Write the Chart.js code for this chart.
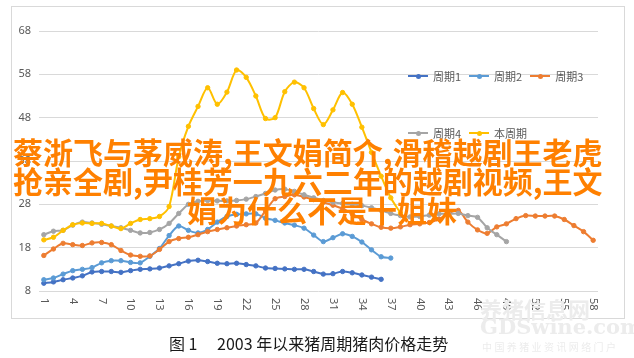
<!DOCTYPE html>
<html>
<head>
<meta charset="utf-8">
<script src="https://cdn.jsdelivr.net/npm/chart.js@4.4.1/dist/chart.umd.min.js"></script>
<style>
  html, body { margin: 0; padding: 0; background: #fff; }
  body { width: 634px; height: 358px; position: relative; overflow: hidden; font-family: "Noto Sans CJK SC", "Noto Sans", sans-serif; }
  #frame { position: absolute; left: 11px; top: 6px; width: 612px; height: 311px; border: 1px solid #d9d9d9; }
  #c { position: absolute; left: 0; top: 0; }
  .legend-row { position: absolute; display: flex; align-items: center; height: 14px; font-size: 11px; color: #595959; white-space: nowrap; }
  .legend-row .item { display: flex; align-items: center; margin-right: 8px; }
  .mk { position: relative; width: 20px; height: 2px; margin-right: 5px; background: var(--c); }
  .mk::after { content: ''; position: absolute; left: 7.5px; top: -1.5px; width: 5px; height: 5px; border-radius: 50%; background: var(--c); }
  .overlay { position: absolute; font-size: 30px; line-height: 30px; font-weight: 700; color: #ff8000; white-space: nowrap; }
  #caption { position: absolute; left: 169px; top: 332px; font-size: 16px; line-height: 22px; color: #1a1a1a; white-space: nowrap; }
  .wm { position: absolute; color: #ececec; white-space: nowrap; }
</style>
</head>
<body>
<div id="frame"></div>
<canvas id="c" width="634" height="358"></canvas>
<div class="legend-row" id="legend1" style="left:408px; top:69px;"></div>
<div class="legend-row" id="legend2" style="left:408px; top:126px;"></div>

<div class="wm" style="left:480px; top:292px; font-size:22px; font-weight:700;">养猪信息网</div>
<div class="wm" style="left:480px; top:314px; font-size:21px; font-family:'DejaVu Serif'; font-weight:700;">GDSwine.com</div>
<div class="wm" style="left:482px; top:339px; font-size:10px; letter-spacing:2.4px;">中国养猪业资讯网络门户</div>

<div class="overlay" style="left:13px; top:136px;">蔡浙飞与茅威涛,王文娟简介,滑稽越剧王老虎</div>
<div class="overlay" style="left:13px; top:165px;">抢亲全剧,尹桂芳一九六二年的越剧视频,王文</div>
<div class="overlay" style="left:187px; top:194px;">娟为什么不是十姐妹</div>

<div id="caption">图 1　 2003 年以来猪周期猪肉价格走势</div>

<script>
// Categories: week/month index since cycle start
const categories = [1, 2, 3, 4, 5, 6, 7, 8, 9, 10, 11, 12, 13, 14, 15, 16, 17, 18, 19, 20,
  21, 22, 23, 24, 25, 26, 27, 28, 29, 30, 31, 32, 33, 34, 35, 36, 37, 38, 39, 40,
  41, 42, 43, 44, 45, 46, 47, 48, 49, 50, 51, 52, 53, 54, 55, 56, 57, 58];

const cycle1 = [9.8, 10.1, 10.6, 11.0, 11.5, 12.4, 12.5, 12.5, 12.3, 12.7, 13.0, 13.1, 13.3, 13.8, 14.3, 14.9, 15.1, 14.8,
  14.4, 14.3, 14.4, 14.1, 13.8, 13.3, 13.2, 13.1, 13.0, 13.0, 12.5, 11.9, 12.0, 12.5, 12.2, 11.7, 11.2, 10.7];
const cycle2 = [10.6, 11.0, 11.9, 12.7, 13.0, 13.4, 14.5, 15.0, 15.0, 14.6, 14.5, 16.0, 17.8, 20.8, 23.0, 22.0, 21.4, 22.2,
  23.9, 25.2, 25.7, 25.8, 25.8, 24.8, 24.3, 23.7, 23.2, 22.5, 20.9, 19.4, 20.3, 21.2, 20.6, 19.3, 17.5, 15.9, 15.6];
const cycle3 = [16.2, 17.7, 19.0, 18.7, 18.5, 19.1, 19.2, 18.7, 17.35, 16.3, 16.0, 16.1,
  17.6, 19.4, 20.1, 20.4, 21.0, 21.7, 22.2, 22.6, 23.0, 23.3, 23.7, 26.5,
  29.3, 29.8, 30.2, 29.7, 29.1, 28.5, 27.8, 27.0, 25.8, 24.5, 23.5, 22.7,
  22.5, 22.8, 23.3, 23.5, 23.8, 24.6, 25.9, 26.6, 23.9, 22.1, 21.3, 22.8,
  23.5, 24.7, 25.4, 25.3, 25.3, 25.3, 24.5, 23.1, 21.7, 19.7];
const cycle4 = [21.0, 21.8, 22.0, 23.2, 23.9, 23.7, 23.4, 23.0, 22.6, 22.0, 21.4, 21.5,
  22.2, 23.6, 25.9, 28.0, 28.7, 28.9, 28.8, 28.8, 28.9, 29.2, 29.8, 30.5,
  31.3, 31.5, 31.0, 30.2, 29.5, 28.9, 28.5, 28.2, 28.0, 27.7, 27.2, 26.6,
  25.9, 25.4, 25.1, 25.2, 25.5, 25.8, 25.8, 25.9, 25.4, 25.0, 22.6, 21.0, 19.4];
const current = [19.8, 20.4, 22.0, 23.3, 23.7, 23.6, 23.6, 23.0, 22.4, 23.6, 24.5, 24.7, 25.2, 27.5, 39.0, 46.0, 50.6, 54.9,
  51.1, 53.9, 59.0, 57.3, 53.0, 47.8, 48.0, 54.0, 56.2, 54.9, 50.1, 46.4, 49.8, 53.8, 51.1, 45.8, 40.0, 34.5, 29.5, 26.0];

const yTicks = { min: 8, max: 68, step: 10 };

const SERIES = [
  { label: '周期1', data: cycle1, color: '#4472C4' },
  { label: '周期2', data: cycle2, color: '#5B9BD5' },
  { label: '周期3', data: cycle3, color: '#ED7D31' },
  { label: '周期4', data: cycle4, color: '#A5A5A5' },
  { label: '本周期', data: current, color: '#FFC000' },
];

// Legend (two rows, inside plot like the Excel original)
const legendItem = (s) => `<span class="item"><span class="mk" style="--c:${s.color}"></span>${s.label}</span>`;
document.getElementById('legend1').innerHTML = SERIES.slice(0, 3).map(legendItem).join('');
document.getElementById('legend2').innerHTML = SERIES.slice(3).map(legendItem).join('');

// x labels are drawn rotated clockwise (top-to-bottom), every 3rd category
const xLabelPlugin = {
  id: 'xLabels',
  afterDraw(chart) {
    const { ctx, scales: { x } } = chart;
    ctx.save();
    ctx.font = '11px "Noto Sans", sans-serif';
    ctx.fillStyle = '#595959';
    ctx.textAlign = 'left';
    ctx.textBaseline = 'middle';
    categories.forEach((c, i) => {
      if (i % 3 !== 0) return;
      ctx.save();
      ctx.translate(x.getPixelForValue(i), chart.chartArea.bottom + 7);
      ctx.rotate(Math.PI / 2);
      ctx.fillText(String(c), 0, 0);
      ctx.restore();
    });
    ctx.restore();
  },
};

new Chart(document.getElementById('c'), {
  type: 'line',
  data: {
    labels: categories,
    datasets: SERIES.map((s, i) => ({
      label: s.label,
      data: s.data,
      borderColor: s.color,
      backgroundColor: s.color,
      pointBackgroundColor: s.color,
      pointBorderColor: s.color,
      pointRadius: 2.2,
      pointBorderWidth: 1,
      borderWidth: 2,
      tension: 0.3,
      order: SERIES.length - i,
    })),
  },
  options: {
    responsive: false,
    animation: false,
    devicePixelRatio: 1,
    layout: { padding: { left: 11, right: 36, top: 31, bottom: 67 } },
    plugins: { legend: { display: false }, tooltip: { enabled: false } },
    scales: {
      x: {
        offset: true,
        grid: { display: false },
        border: { display: false },
        ticks: { display: false },
        afterFit: (s) => { s.height = 0; },
      },
      y: {
        min: yTicks.min,
        max: yTicks.max,
        grid: { color: '#d9d9d9', lineWidth: 1, drawTicks: false },
        border: { display: false },
        ticks: { stepSize: yTicks.step, padding: 8, color: '#595959', font: { family: '"Noto Sans", sans-serif', size: 11 } },
        afterFit: (s) => { s.width = 28; },
      },
    },
  },
  plugins: [xLabelPlugin],
});
</script>
</body>
</html>
